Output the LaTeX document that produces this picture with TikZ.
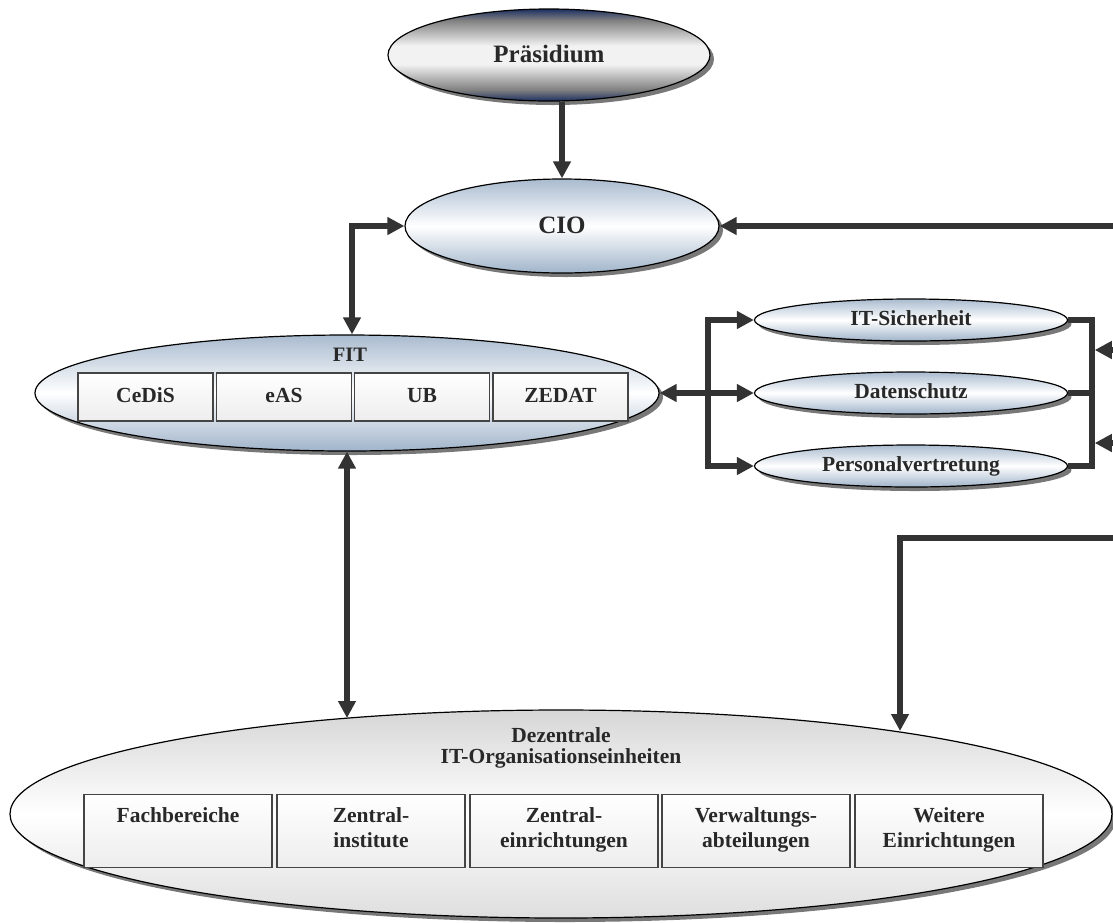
\documentclass[tikz,border=0pt]{standalone}
\usepackage{fontspec}
\setmainfont{Liberation Serif}
\usetikzlibrary{arrows.meta,shapes.geometric,shadows,positioning}
\definecolor{PraesNavy}{RGB}{28,48,98}
\definecolor{StahlBlau}{RGB}{160,180,202}
\definecolor{PfeilGrau}{RGB}{51,51,51}
\definecolor{RandGrau}{RGB}{68,68,68}
\definecolor{TextGrau}{RGB}{40,40,40}
\definecolor{SchattenGrau}{RGB}{120,120,120}
\pgfdeclareverticalshading{praesverlauf}{100bp}{color(0bp)=(PraesNavy); color(25bp)=(PraesNavy); color(31bp)=(black!50); color(45bp)=(black!5); color(55bp)=(black!5); color(69bp)=(black!50); color(75bp)=(PraesNavy); color(100bp)=(PraesNavy)}

\begin{document}
\begin{tikzpicture}[x=1pt,y=-1pt,>={Triangle[length=17pt,width=17pt]},
    schrift/.style={font=\bfseries\fontsize{21.5}{25}\selectfont,text=TextGrau},
    oval/.style={ellipse,draw=black,line width=1.2pt,inner sep=0pt,schrift,
      text height=14pt,text depth=3pt,
      drop shadow={shadow xshift=4pt,shadow yshift=-4pt,fill=SchattenGrau,opacity=1}},
    navyoval/.style={oval,shade,shading=praesverlauf},
    blauoval/.style={oval,top color=StahlBlau!90,bottom color=StahlBlau,middle color=white},
    grauoval/.style={oval,top color=black!16,bottom color=black!13,middle color=white},
    kasten/.style={rectangle,draw=RandGrau,line width=1.8pt,inner sep=0pt,schrift,
      top color=white,bottom color=black!7},
    pfeil/.style={draw=PfeilGrau,line width=5.5pt,line join=miter}]
  \useasboundingbox (0,0) rectangle (1113,922);

  \node[navyoval,minimum width=322,minimum height=92,font=\bfseries\fontsize{25}{28}\selectfont,text height=17pt] (praes) at (549,55) {Präsidium};
  \node[blauoval,minimum width=314,minimum height=94,font=\bfseries\fontsize{25}{28}\selectfont,text height=17pt] (cio) at (562,226) {CIO};

  \node[blauoval,minimum width=624,minimum height=116] (fit) at (347,393) {};
  \node[schrift,font=\bfseries\fontsize{20.5}{24}\selectfont] (fittitel) at (350,355) {FIT};
  \foreach \n/\t/\x in {cedis/CeDiS/145.5,eas/eAS/284,ub/UB/422,zedat/ZEDAT/560.5}
    \node[kasten,minimum width=135,minimum height=48,text height=14pt,text depth=3pt] (\n) at (\x,397) {\t};

  \node[blauoval,minimum width=313,minimum height=42] (its) at (911,320) {IT-Sicherheit};
  \node[blauoval,minimum width=313,minimum height=42] (dsch) at (911,393) {Datenschutz};
  \node[blauoval,minimum width=313,minimum height=42] (pv) at (911,466) {Personalvertretung};

  \node[grauoval,minimum width=1102,minimum height=208] (dez) at (561,814) {};
  \node[schrift,align=center,font=\bfseries\fontsize{21.5}{21}\selectfont,
    execute at begin node=\strut,execute at end node=\strut] (deztitel) at (561,749) {Dezentrale\\IT-Organisationseinheiten};
  \foreach \n/\t/\x in {fb/{Fachbereiche\\}/178,zi/{Zentral-\\institute}/371,ze/{Zentral-\\einrichtungen}/564,
      vw/{Verwaltungs-\\abteilungen}/756,we/{Weitere\\Einrichtungen}/949}
    \node[kasten,align=center,minimum width=188,minimum height=73,
      execute at begin node=\strut,execute at end node=\strut] (\n) at (\x,831) {\t};

  \coordinate (lb) at (708,393);
  \coordinate (rbo) at (1092,320);
  \coordinate (rbu) at (1092,466);
  \coordinate (rein1) at (1125,226);
  \coordinate (rein2) at (1125,350);
  \coordinate (rein3) at (1125,443);
  \coordinate (rein4) at (1125,538);
  \coordinate (dezein1) at (347,718);
  \coordinate (dezein2) at (900,731);

  \draw[pfeil,->] (cio.north |- praes.south) -- (cio.north);
  \draw[pfeil,<->] (cio.west) -| ([xshift=5pt]fit.north);
  \draw[pfeil,<->] (fit.south) -- (fit.south |- dezein1);
  \draw[pfeil,<->] (fit.east) -- (dsch.west);
  \draw[pfeil,->] (lb) |- (its.west);
  \draw[pfeil,->] (lb) |- (pv.west);
  \draw[pfeil] (its.east) -- (rbo) -- (rbu) -- (pv.east);
  \draw[pfeil] (dsch.east) -- (dsch.east -| rbo);
  \draw[pfeil,->] (rein1) -- (cio.east);
  \draw[pfeil,->,shorten >=2.75pt] (rein2) -- (rein2 -| rbo);
  \draw[pfeil,->,shorten >=2.75pt] (rein3) -- (rein3 -| rbo);
  \draw[pfeil,->] (rein4) -| (dezein2);
\end{tikzpicture}
\end{document}
